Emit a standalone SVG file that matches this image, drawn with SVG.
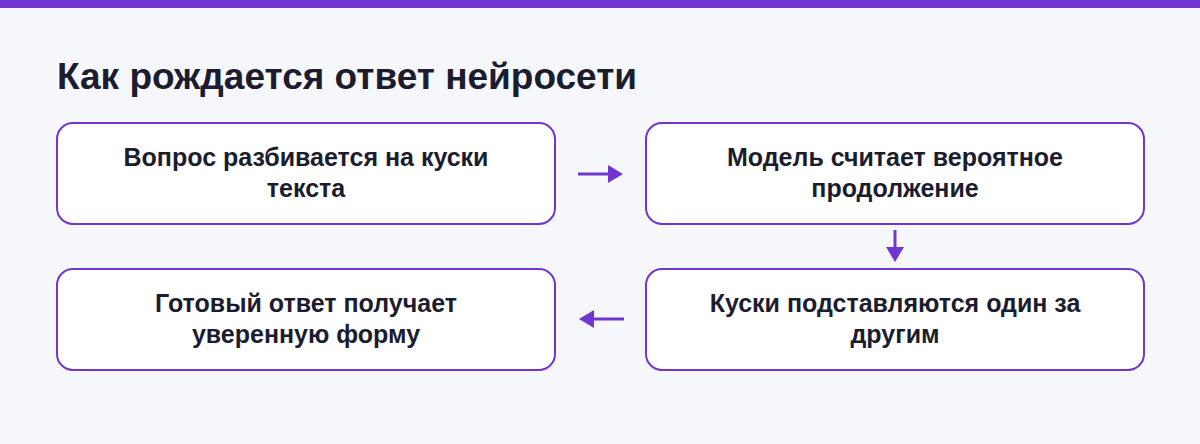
<svg xmlns="http://www.w3.org/2000/svg" width="1200" height="444" viewBox="0 0 1200 444">
<style>
.box{fill:#fff;stroke:#7236d0;stroke-width:2}
.t{font-family:"Liberation Sans",Arial,sans-serif;font-weight:bold;font-size:25px;fill:#1b1d2e;text-anchor:middle}
.c{stroke:#7236d0;stroke-width:3;fill:none}
</style>
<defs><marker id="a" markerWidth="6" markerHeight="6" refX="1" refY="3" orient="auto" markerUnits="strokeWidth"><path d="M0,0L5,3L0,6Z" fill="#7236d0"/></marker></defs>
<rect width="1200" height="444" fill="#f6f7fb"/>
<rect width="1200" height="8" fill="#7236d0"/>
<text x="57" y="89" font-family="Liberation Sans,Arial,sans-serif" font-weight="bold" font-size="37" fill="#1b1d2e">Как рождается ответ нейросети</text>
<g id="n1"><rect class="box" x="57" y="123" width="498" height="101" rx="16"/><text class="t" x="306" y="166">Вопрос разбивается на куски</text><text class="t" x="306" y="197">текста</text></g>
<g id="n2"><rect class="box" x="646" y="123" width="498" height="101" rx="16"/><text class="t" x="895" y="166">Модель считает вероятное</text><text class="t" x="895" y="197">продолжение</text></g>
<g id="n3"><rect class="box" x="646" y="269" width="498" height="101" rx="16"/><text class="t" x="895" y="312">Куски подставляются один за</text><text class="t" x="895" y="343">другим</text></g>
<g id="n4"><rect class="box" x="57" y="269" width="498" height="101" rx="16"/><text class="t" x="306" y="312">Готовый ответ получает</text><text class="t" x="306" y="343">уверенную форму</text></g>
<g id="connectors">
<path class="c" d="M578,174H611" marker-end="url(#a)"/>
<path class="c" d="M895,230V250" marker-end="url(#a)"/>
<path class="c" d="M624,319H591" marker-end="url(#a)"/>
</g>
</svg>
